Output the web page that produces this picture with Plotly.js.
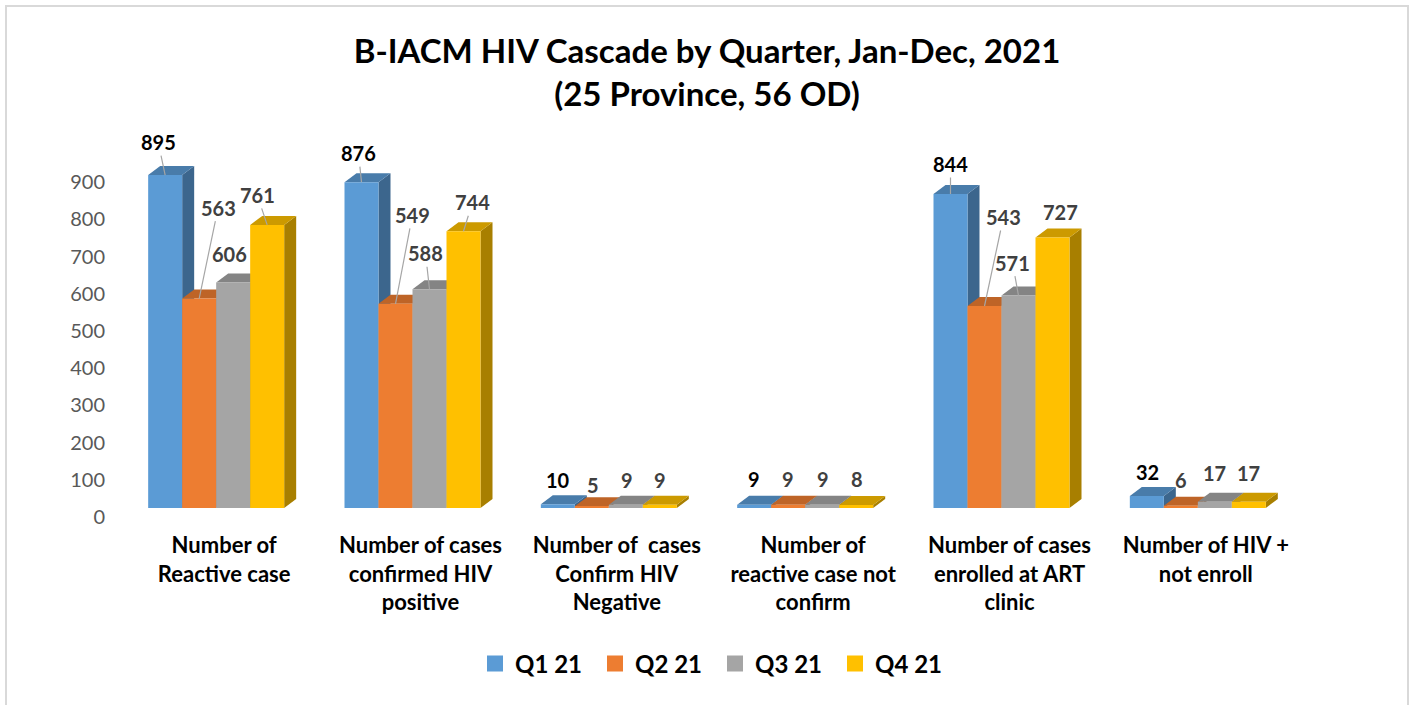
<!DOCTYPE html>
<html lang="en">
<head>
<meta charset="UTF-8">
<title>B-IACM HIV Cascade by Quarter</title>
<script src="https://cdn.plot.ly/plotly-3.0.1.min.js"></script>
<style>
    body { margin: 0; background: #fff; }
    #chart { position: absolute; left: 0; top: 0; width: 1414px; height: 705px; }
    #frame {
        position: absolute; left: 5px; top: 5px; width: 1400px; height: 720px;
        border: 2px solid #d9d9d9; pointer-events: none;
    }
</style>
</head>
<body>
<div id="chart"></div>
<div id="frame"></div>
<script>
// categories (tick labels) and quarterly values
const categories = [
    'Number of<br>Reactive case',
    'Number of cases<br>confirmed HIV<br>positive',
    'Number of  cases<br>Confirm HIV<br>Negative',
    'Number of<br>reactive case not<br>confirm',
    'Number of cases<br>enrolled at ART<br>clinic',
    'Number of HIV +<br>not enroll'
];
const quarters = ['Q1 21', 'Q2 21', 'Q3 21', 'Q4 21'];
const q1 = [895, 876, 10, 9, 844, 32];
const q2 = [563, 549, 5, 9, 543, 6];
const q3 = [606, 588, 9, 9, 571, 17];
const q4 = [761, 744, 9, 8, 727, 17];
const yTicks = [0, 100, 200, 300, 400, 500, 600, 700, 800, 900];

// look
const colors = ['#5b9bd5', '#ed7d31', '#a5a5a5', '#ffc000'];
const FONT = 'Lato, "Open Sans", sans-serif';

// where each data label sits, pixels from the bar top [dx, dy, leader line]
const labelPos = [
    [[-7, -33, 1], [-3, -29, 1], [0, -24, 0], [0, -26, 0], [0, -30, 1], [1, -24, 0]],
    [[19, -91, 1], [17, -89, 1], [1, -21, 0], [0, -26, 0], [19, -89, 1], [0, -26, 0]],
    [[-4, -29, 0], [-4, -36, 1], [1, -25, 0], [1, -26, 0], [-6, -33, 1], [0, -29, 0]],
    [[-10, -30, 1], [9, -29, 1], [0, -25, 0], [1, -26, 0], [8, -26, 0], [0, -29, 0]]
];

const W = 1414, H = 705;
const M = { l: 126, r: 110, t: 136, b: 197 };
const yMax = 1000;
const pxX = (W - M.l - M.r) / categories.length;
const pxY = (H - M.t - M.b) / yMax;
const barW = 34 / pxX;
const shift = -8 / pxX;
const dX = 12 / pxX, dY = 9 / pxY;

function shade(hex, k) {
    const n = parseInt(hex.slice(1), 16);
    const r = Math.round(((n >> 16) & 255) * k);
    const g = Math.round(((n >> 8) & 255) * k);
    const b = Math.round((n & 255) * k);
    return 'rgb(' + r + ',' + g + ',' + b + ')';
}

const series = [q1, q2, q3, q4];
const idx = categories.map((c, i) => i);
const traces = [];
const shapes = [];
const annotations = [];

series.forEach((vals, s) => {
    const off = shift + (s - 2) * barW;
    traces.push({
        type: 'bar',
        x: idx,
        y: vals,
        width: barW,
        offset: off,
        marker: { color: colors[s], line: { width: 0 } },
        name: quarters[s],
        showlegend: false,
        hoverinfo: 'y'
    });
    // legend entry
    traces.push({
        type: 'scatter',
        mode: 'markers',
        x: [null],
        y: [null],
        name: quarters[s],
        marker: { symbol: 'square', size: 16, color: colors[s] }
    });
});

// 3d side and top faces, built per category so overlap order is right
idx.forEach(i => {
    series.forEach((vals, s) => {
        const v = vals[i];
        const x0 = i + shift + (s - 2) * barW;
        const x1 = x0 + barW;
        shapes.push({
            type: 'path', xref: 'x', yref: 'y', layer: 'below',
            path: `M${x1},0 L${x1 + dX},${dY} L${x1 + dX},${v + dY} L${x1},${v} Z`,
            fillcolor: shade(colors[s], 0.66), line: { width: 0 }
        });
        shapes.push({
            type: 'path', xref: 'x', yref: 'y', layer: 'below',
            path: `M${x0},${v} L${x0 + dX},${v + dY} L${x1 + dX},${v + dY} L${x1},${v} Z`,
            fillcolor: shade(colors[s], 0.8), line: { width: 0 }
        });
        const p = labelPos[s][i];
        annotations.push({
            x: x0 + barW / 2, y: v,
            text: String(v),
            showarrow: true, arrowhead: 0, arrowwidth: 1.2,
            arrowcolor: p[2] ? '#a6a6a6' : 'rgba(0,0,0,0)',
            ax: p[0], ay: p[1],
            font: { family: FONT, size: 20, weight: 'bold', color: s === 0 ? '#000000' : '#404040' }
        });
    });
});

const layout = {
    width: W, height: H,
    margin: M,
    paper_bgcolor: '#ffffff',
    plot_bgcolor: '#ffffff',
    barmode: 'overlay',
    title: {
        text: 'B-IACM HIV Cascade by Quarter, Jan-Dec, 2021<br>(25 Province, 56 OD)',
        font: { family: FONT, size: 33, weight: 'bold', color: '#000' },
        x: 0.5, xref: 'container',
        y: 0.91, yref: 'container', yanchor: 'top'
    },
    xaxis: {
        range: [-0.5, categories.length - 0.5],
        tickvals: idx,
        ticktext: categories,
        tickfont: { family: FONT, size: 22, weight: 'bold', color: '#000' },
        showgrid: false, zeroline: false, showline: false,
        ticks: '', ticklabelstandoff: 22,
        fixedrange: true
    },
    yaxis: {
        range: [0, yMax],
        tickvals: yTicks,
        tickfont: { family: FONT, size: 20, color: '#595959' },
        showgrid: false, zeroline: false, showline: false,
        ticks: '', ticklabelstandoff: 20, ticklabelshift: 9,
        fixedrange: true
    },
    legend: {
        orientation: 'h',
        x: 0.5, xanchor: 'center',
        y: 1 - 664 / H, yref: 'container', yanchor: 'middle',
        font: { family: FONT, size: 24, weight: 'bold', color: '#000' },
        entrywidth: 75, itemclick: false
    },
    shapes: shapes,
    annotations: annotations
};

Plotly.newPlot('chart', traces, layout, { displayModeBar: false, responsive: false });
</script>
</body>
</html>
